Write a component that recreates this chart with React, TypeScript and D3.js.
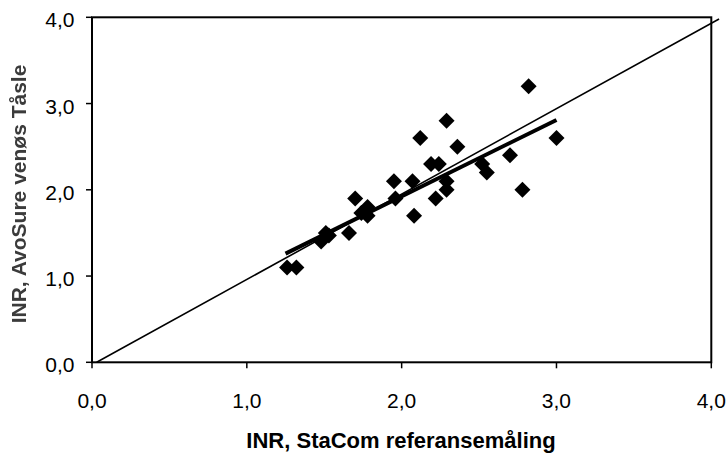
import React from "react";
import * as d3 from "d3";

const refX = [2.82, 2.29, 2.12, 2.36, 3.0, 2.7, 2.19, 2.24, 2.52, 2.55, 1.95, 2.07, 2.29, 2.29, 2.22, 2.78, 1.7, 1.96, 1.78, 1.74, 1.78, 2.08, 1.66, 1.51, 1.48, 1.53, 1.26, 1.32];
const avoY = [3.2, 2.8, 2.6, 2.5, 2.6, 2.4, 2.3, 2.3, 2.3, 2.2, 2.1, 2.1, 2.1, 2.0, 1.9, 2.0, 1.9, 1.9, 1.8, 1.73, 1.7, 1.7, 1.5, 1.5, 1.4, 1.47, 1.1, 1.1];
const regX = [1.25, 3.0];
const regY = [1.26, 2.81];
const idX = [0.03, 4.05];
const idY = [0, 3.98];
const ticks = [0, 1, 2, 3, 4];
const tickLabels = ["0,0", "1,0", "2,0", "3,0", "4,0"];
const xTitle = "INR, StaCom referansemåling";
const yTitle = "INR, AvoSure venøs Tåsle";

export default function App() {
  const x = d3.scaleLinear().domain([0, 4]).range([92, 711.3]);
  const y = d3.scaleLinear().domain([0, 4]).range([362.3, 17.3]);
  const line = d3.line<[number, number]>().x((d) => x(d[0])).y((d) => y(d[1]));
  const diamond = d3.symbol().type(d3.symbolSquare).size(128)() as string;
  const font = "'Liberation Sans', Arial, sans-serif";
  return (
    <svg width={728} height={453} style={{ position: "absolute", left: 0, top: 0, background: "#fff" }} fontFamily={font}>
      <defs>
        <filter id="blur" x="-10%" y="-10%" width="120%" height="120%">
          <feGaussianBlur stdDeviation="0.5" />
        </filter>
      </defs>
      <rect x={0} y={0} width={728} height={453} fill="#fff" />
      {/* identity line */}
      <path d={line(idX.map((v, i) => [v, idY[i]]) as [number, number][]) || ""} stroke="#000" strokeWidth={1.6} fill="none" />
      {/* points */}
      {refX.map((v, i) => (
        <path key={i} d={diamond} transform={`translate(${x(v)},${y(avoY[i])}) rotate(45)`} fill="#000" />
      ))}
      {/* regression line */}
      <path d={line(regX.map((v, i) => [v, regY[i]]) as [number, number][]) || ""} stroke="#000" strokeWidth={4} fill="none" />
      {/* frame */}
      <rect x={x(0)} y={y(4)} width={x(4) - x(0)} height={y(0) - y(4)} fill="none" stroke="#000" strokeWidth={2} />
      {/* y ticks */}
      {ticks.map((t, i) => (
        <g key={"y" + i}>
          <line x1={x(0) - 6} x2={x(0)} y1={y(t)} y2={y(t)} stroke="#000" strokeWidth={1.5} />
          <text x={74.5} y={y(t) + 10} textAnchor="end" fontSize={21} fill="#000">
            {tickLabels[i]}
          </text>
        </g>
      ))}
      {/* x ticks */}
      {ticks.map((t, i) => (
        <g key={"x" + i}>
          <line x1={x(t)} x2={x(t)} y1={y(0)} y2={y(0) + 6} stroke="#000" strokeWidth={1.5} />
          <text x={x(t)} y={408} textAnchor="middle" fontSize={21} fill="#000">
            {tickLabels[i]}
          </text>
        </g>
      ))}
      <text x={401} y={448} textAnchor="middle" fontSize={22} fontWeight="bold" fill="#000">
        {xTitle}
      </text>
      <text
        transform={`translate(26,194) rotate(-90)`}
        textAnchor="middle"
        fontSize={21}
        fontWeight="bold"
        fill="#3a3a3a"
        filter="url(#blur)"
      >
        {yTitle}
      </text>
    </svg>
  );
}
